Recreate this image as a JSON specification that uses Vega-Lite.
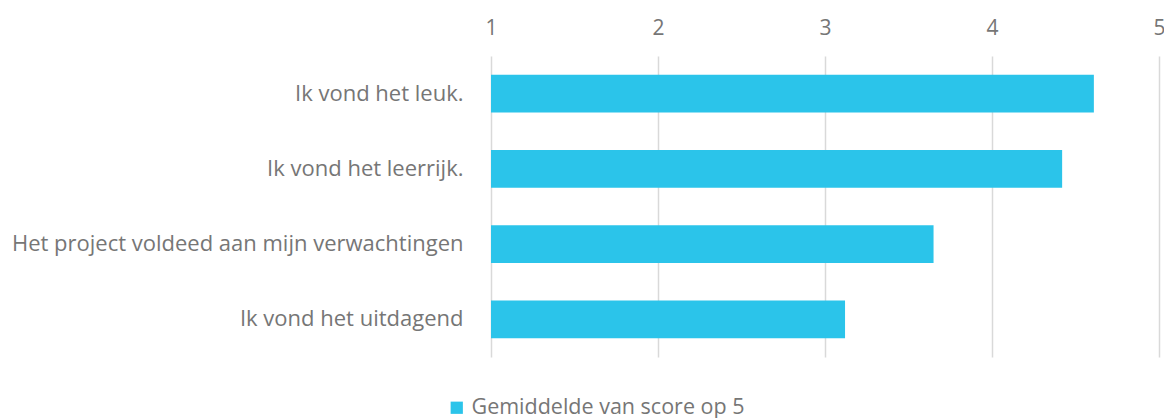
{
  "$schema": "https://vega.github.io/schema/vega-lite/v6.json",
  "width": 668,
  "height": 301,
  "autosize": "none",
  "padding": {"left": 491, "top": 56, "right": 5, "bottom": 61},
  "background": "white",
  "config": {
    "font": "Open Sans",
    "view": {"stroke": null}
  },
  "data": {
    "values": [
      {"vraag": "Ik vond het leuk.", "score": 4.61, "basis": 1, "reeks": "Gemiddelde van score op 5"},
      {"vraag": "Ik vond het leerrijk.", "score": 4.42, "basis": 1, "reeks": "Gemiddelde van score op 5"},
      {"vraag": "Het project voldeed aan mijn verwachtingen", "score": 3.65, "basis": 1, "reeks": "Gemiddelde van score op 5"},
      {"vraag": "Ik vond het uitdagend", "score": 3.12, "basis": 1, "reeks": "Gemiddelde van score op 5"}
    ]
  },
  "mark": {"type": "bar", "color": "#2BC4EA"},
  "encoding": {
    "y": {
      "field": "vraag",
      "type": "nominal",
      "sort": null,
      "scale": {"paddingInner": 0.5, "paddingOuter": 0.25},
      "axis": {
        "title": null,
        "ticks": false,
        "domain": false,
        "labelFontSize": 22,
        "labelColor": "#767676",
        "labelPadding": 28,
        "labelLimit": 600
      }
    },
    "x": {
      "field": "score",
      "type": "quantitative",
      "scale": {"domain": [1, 5], "zero": false, "nice": false},
      "axis": {
        "orient": "top",
        "title": null,
        "values": [1, 2, 3, 4, 5],
        "ticks": false,
        "domain": false,
        "grid": true,
        "gridColor": "#d9d9d9",
        "gridWidth": 1.5,
        "labelFontSize": 21,
        "labelColor": "#767676",
        "labelPadding": 18,
        "labelFlush": false
      }
    },
    "x2": {"field": "basis"},
    "color": {
      "field": "reeks",
      "type": "nominal",
      "scale": {"range": ["#2BC4EA"]},
      "legend": {
        "title": null,
        "orient": "none",
        "legendX": -45,
        "legendY": 341,
        "symbolType": "square",
        "symbolSize": 150,
        "symbolStrokeWidth": 0,
        "labelFontSize": 21.5,
        "labelColor": "#767676",
        "labelOffset": 4,
        "labelLimit": 400
      }
    }
  }
}
